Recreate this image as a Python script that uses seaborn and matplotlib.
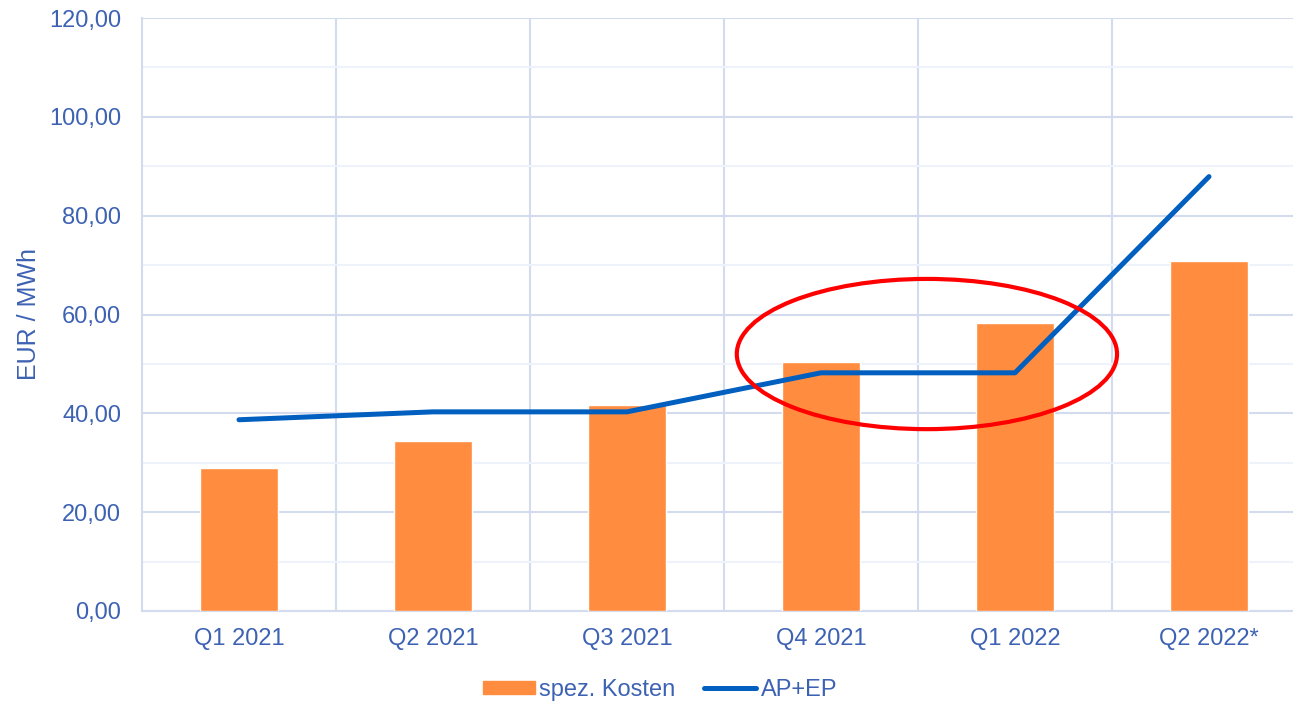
import pandas as pd
import matplotlib.pyplot as plt
import seaborn as sns
from matplotlib.patches import Ellipse, Patch
from matplotlib.lines import Line2D
from matplotlib.ticker import MultipleLocator, FuncFormatter

quarters = ["Q1 2021", "Q2 2021", "Q3 2021", "Q4 2021", "Q1 2022", "Q2 2022*"]
spez_kosten = [28.9, 34.4, 41.7, 50.4, 58.3, 70.9]
ap_ep = [38.7, 40.3, 40.3, 48.2, 48.2, 87.9]

df = pd.DataFrame({"Quartal": quarters, "spez. Kosten": spez_kosten, "AP+EP": ap_ep})

sns.set_style("white")
plt.rcParams["font.family"] = ["Liberation Sans", "DejaVu Sans"]

text_col = "#3D62B3"
bar_col = "#FF8C3F"
line_col = "#005FBF"
grid_col = "#D3DCEF"

fig = plt.figure(figsize=(12.93, 7.04), dpi=100)
ax = fig.add_axes([142 / 1293, 93 / 704, 1164 / 1293, 593 / 704])

sns.barplot(data=df, x="Quartal", y="spez. Kosten", color=bar_col, width=0.4,
            saturation=1, ax=ax, zorder=3)
sns.lineplot(data=df, x="Quartal", y="AP+EP", color=line_col, linewidth=3.6,
             sort=False, ax=ax, zorder=4, solid_capstyle="round")

ax.set_xlim(-0.5, len(quarters) - 0.5)
ax.set_ylim(0, 120)
ax.yaxis.set_major_locator(MultipleLocator(20))
ax.yaxis.set_minor_locator(MultipleLocator(10))
ax.yaxis.set_major_formatter(FuncFormatter(lambda v, p: f"{v:.2f}".replace(".", ",")))

ax.grid(axis="y", which="major", color=grid_col, linewidth=1.5, zorder=0)
ax.grid(axis="y", which="minor", color="#EEF2FA", linewidth=1.5, zorder=0)
# vertical grid lines between categories
for b in range(1, len(quarters)):
    ax.axvline(b - 0.5, color=grid_col, linewidth=1.5, zorder=0)
ax.set_axisbelow(True)

for s in ["top", "right"]:
    ax.spines[s].set_visible(False)
for s in ["left", "bottom"]:
    ax.spines[s].set_color(grid_col)
    ax.spines[s].set_linewidth(1.5)

# ticks at category boundaries, labels at centres
ax.set_xticks([i - 0.5 for i in range(len(quarters) + 1)], minor=True)
ax.tick_params(axis="x", which="minor", length=7, width=1.5, color=grid_col)
ax.tick_params(axis="x", which="major", length=0, pad=12, labelsize=17, labelcolor=text_col)
ax.tick_params(axis="y", which="both", length=0, pad=15, labelsize=17, labelcolor=text_col)

ax.set_xlabel("")
ax.set_ylabel("EUR / MWh", color=text_col, fontsize=18, labelpad=6)

ell = Ellipse((3.546, 52.0), 1.96, 30.4, fill=False, edgecolor="#FF0000",
              linewidth=3, zorder=5)
ax.add_patch(ell)

handles = [Patch(color=bar_col, label="spez. Kosten"),
           Line2D([0], [0], color=line_col, linewidth=3.6, label="AP+EP")]
fig.legend(handles=handles, loc="center", bbox_to_anchor=(660 / 1293, 1 - 690 / 704),
           ncol=2, frameon=False, fontsize=17, labelcolor=text_col,
           handlelength=2.2, handleheight=0.5, handletextpad=0.2, columnspacing=1.2)

fig.savefig("out.png", dpi=100)
